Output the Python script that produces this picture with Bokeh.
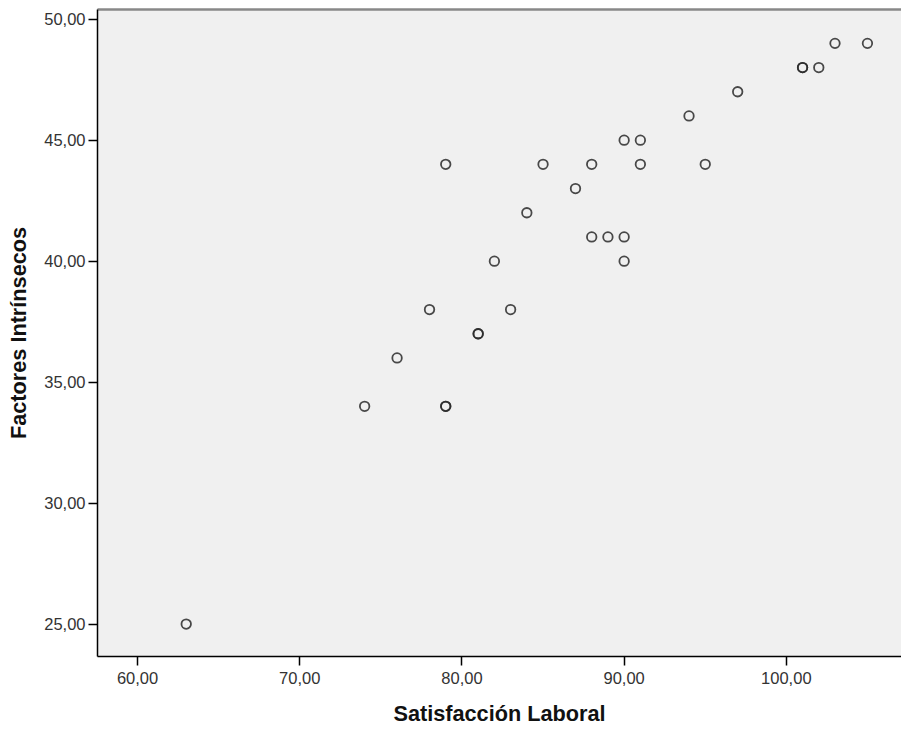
from bokeh.plotting import figure
from bokeh.models import Range1d, FixedTicker, CustomJSTickFormatter, LinearAxis
from bokeh.embed import file_html
from bokeh.resources import INLINE

# Data (Satisfacción Laboral vs Factores Intrínsecos)
satisfaccion = [63, 74, 76, 78, 79, 79, 79, 81, 81, 82, 83, 84, 85, 87, 88,
                88, 89, 90, 90, 90, 91, 91, 94, 95, 97, 101, 101, 102, 103, 105]
factores = [25, 34, 36, 38, 34, 34, 44, 37, 37, 40, 38, 42, 44, 43, 44,
            41, 41, 45, 41, 40, 45, 44, 46, 44, 47, 48, 48, 48, 49, 49]

x_ticks = [60, 70, 80, 90, 100]
y_ticks = [25, 30, 35, 40, 45, 50]
x_title = "Satisfacción Laboral"
y_title = "Factores Intrínsecos"

p = figure(width=901, height=728, output_backend="svg", toolbar_location=None,
           x_range=Range1d(57.53, 107.1), y_range=Range1d(23.66, 50.40),
           min_border_left=97, min_border_right=0, min_border_top=9, min_border_bottom=70)

p.background_fill_color = "#f0f0f0"
p.border_fill_color = "white"
p.grid.visible = False
p.outline_line_color = None

xax = p.below[0]
yax = p.left[0]

fmt = CustomJSTickFormatter(code="return tick.toFixed(2).replace('.', ',');")
for ax, ticks in ((xax, x_ticks), (yax, y_ticks)):
    ax.ticker = FixedTicker(ticks=ticks)
    ax.formatter = fmt
    ax.minor_tick_line_color = None
    ax.major_tick_in = 0
    ax.major_tick_out = 9
    ax.major_tick_line_color = "black"
    ax.major_tick_line_width = 1.5
    ax.axis_line_color = "black"
    ax.axis_line_width = 1.5
    ax.major_label_text_font = "Liberation Sans"
    ax.major_label_text_font_size = "16.5px"
    ax.major_label_text_color = "#333333"
    ax.axis_label_text_font = "Liberation Sans"
    ax.axis_label_text_font_style = "bold"
    ax.axis_label_text_font_size = "21.7px"
    ax.axis_label_text_color = "#111111"

xax.axis_label = x_title
yax.axis_label = y_title
xax.major_label_standoff = 6
yax.major_label_standoff = 3
xax.axis_label_standoff = 14
yax.axis_label_standoff = 10

# top frame line (gray), no ticks or labels
top = LinearAxis(ticker=FixedTicker(ticks=[]), axis_line_color="#888888",
                 axis_line_width=2.5, major_tick_line_color=None,
                 minor_tick_line_color=None, major_label_text_font_size="0px")
p.add_layout(top, "above")

p.scatter(satisfaccion, factores, marker="circle", size=9.5,
          fill_color=None, line_color="#2a2a2a", line_width=1.8, line_alpha=0.85)

open("out.html", "w").write(file_html(p, INLINE))
